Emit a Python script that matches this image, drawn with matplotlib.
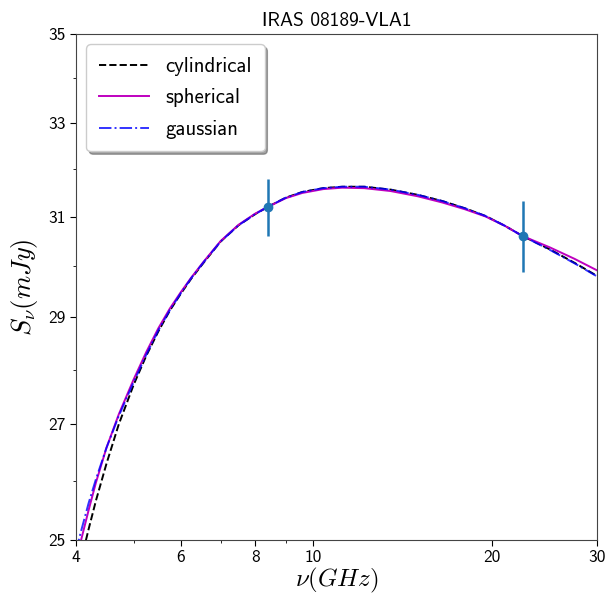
import numpy as np
import matplotlib
matplotlib.use("Agg")
import matplotlib.pyplot as plt
from matplotlib.ticker import FixedLocator, FixedFormatter, NullFormatter

plt.rcParams["font.family"] = ["cmss10", "DejaVu Sans"]
plt.rcParams["mathtext.fontset"] = "cm"
plt.rcParams["axes.unicode_minus"] = False

# --- values (GHz, mJy) ---
freq = [4.0, 4.08, 4.2, 4.32, 4.5, 4.72, 5.0, 5.25, 5.5, 5.75, 6.0, 6.25, 6.55,
        7.0, 7.5, 8.0, 8.4, 9.0, 9.6, 10.4, 11.2, 12.2, 13.5, 15.0, 16.5,
        18.0, 19.5, 21.0, 22.5, 25.0, 27.5, 30.0]
cylindrical = [24.34, 24.67, 25.18, 25.66, 26.30, 27.00, 27.72, 28.26, 28.72, 29.12, 29.45, 29.75, 30.06,
               30.49, 30.82, 31.05, 31.20, 31.39, 31.51, 31.59, 31.62, 31.62, 31.56, 31.45, 31.32,
               31.17, 31.01, 30.81, 30.60, 30.33, 30.06, 29.80]
spherical = [24.67, 25.00, 25.50, 25.97, 26.58, 27.18, 27.82, 28.33, 28.78, 29.16, 29.48, 29.77, 30.08,
             30.50, 30.83, 31.06, 31.20, 31.38, 31.49, 31.57, 31.60, 31.59, 31.53, 31.42, 31.29,
             31.15, 31.00, 30.81, 30.60, 30.37, 30.14, 29.91]
gaussian = [24.82, 25.15, 25.62, 26.03, 26.58, 27.15, 27.77, 28.28, 28.74, 29.13, 29.46, 29.76, 30.07,
            30.49, 30.82, 31.05, 31.20, 31.39, 31.51, 31.59, 31.62, 31.62, 31.56, 31.45, 31.32,
            31.17, 31.01, 30.81, 30.60, 30.32, 30.05, 29.79]

obs_freq = [8.4, 22.5]
obs_flux = [31.20, 30.60]
obs_err = [0.59, 0.72]

xticks = [4, 6, 8, 10, 20, 30]
xminor = [5, 7, 9]
yticks = [25, 27, 29, 31, 33, 35]
yminor = [26, 28, 30, 32, 34]

fig = plt.figure(figsize=(6.05, 5.99), dpi=100)
ax = fig.add_axes([0.1256, 0.0985, 0.8612, 0.8447])

ax.plot(freq, cylindrical, "k--", lw=1.4, label="cylindrical")
ax.plot(freq, spherical, color="m", ls="-", lw=1.4, label="spherical")
ax.plot(freq, gaussian, color="b", ls="-.", lw=1.4, alpha=0.8, label="gaussian")
ax.errorbar(obs_freq, obs_flux, yerr=obs_err, fmt="o", color="C0", ms=6,
            ecolor="C0", elinewidth=1.8, capsize=0)

ax.set_xscale("log")
ax.set_yscale("log")
ax.set_xlim(4, 30)
ax.set_ylim(25, 35)

ax.xaxis.set_major_locator(FixedLocator(xticks))
ax.xaxis.set_major_formatter(FixedFormatter([str(t) for t in xticks]))
ax.xaxis.set_minor_locator(FixedLocator(xminor))
ax.xaxis.set_minor_formatter(NullFormatter())
ax.yaxis.set_major_locator(FixedLocator(yticks))
ax.yaxis.set_major_formatter(FixedFormatter([str(t) for t in yticks]))
ax.yaxis.set_minor_locator(FixedLocator(yminor))
ax.yaxis.set_minor_formatter(NullFormatter())
ax.tick_params(which="major", labelsize=12.5, length=4)
ax.tick_params(which="minor", length=2.5)
for s in ax.spines.values():
    s.set_color("#444444")

ax.set_xlabel(r"$\nu(GHz)$", fontsize=18, labelpad=0)
ax.set_ylabel(r"$S_{\nu}(mJy)$", fontsize=19, labelpad=6)
ax.set_title("IRAS 08189-VLA1", fontsize=14, pad=6)

ax.legend(loc="upper left", fontsize=15, shadow=True, fancybox=True,
          handlelength=2.4, borderpad=0.6, labelspacing=0.6, framealpha=1)

fig.savefig("out.png", dpi=100)
